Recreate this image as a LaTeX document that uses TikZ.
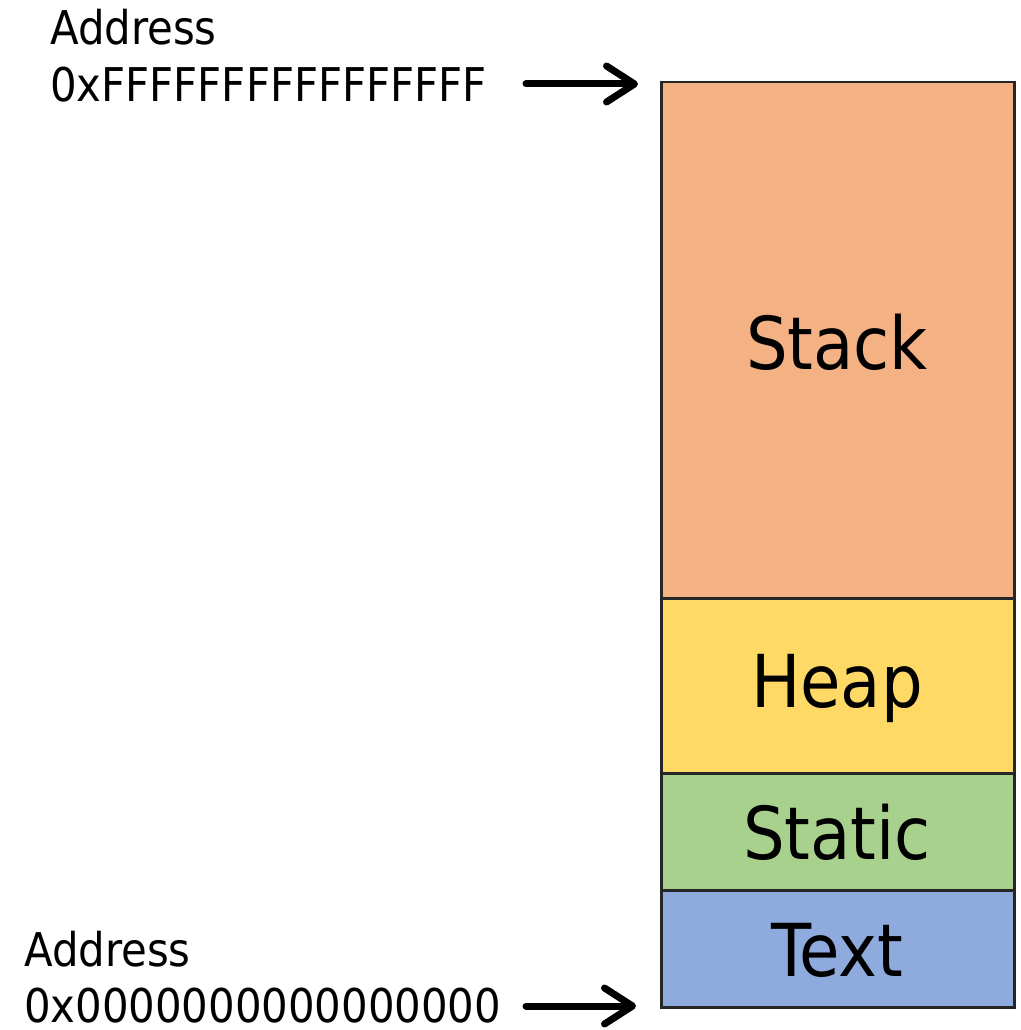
\documentclass[tikz,border=0pt]{standalone}
\usepackage{fontspec}
\setmainfont{DejaVu Sans Condensed}
\usetikzlibrary{arrows.meta}
\definecolor{stackc}{HTML}{F4B183}
\definecolor{heapc}{HTML}{FFD966}
\definecolor{staticc}{HTML}{A9D18E}
\definecolor{textc}{HTML}{8FAADC}
\begin{document}
\begin{tikzpicture}[x=1pt,y=-1pt,
  seg/.style={draw=black!85,line width=2.5pt,anchor=north west,minimum width=353pt,inner sep=0pt,
    font=\fontsize{70}{70}\selectfont},
  addr/.style={anchor=base west,inner sep=0pt,text depth=0pt,font=\fontsize{46.5}{46.5}\selectfont},
  ptr/.style={line width=7pt,line cap=round,-{Straight Barb[length=28pt,width=36pt,round]}}]
\path[use as bounding box] (0,0) rectangle (1020,1030);
\node[seg,fill=stackc,minimum height=516pt] (stack) at (660,81) {};
\node[seg,fill=heapc,minimum height=175pt] (heap) at (660,597) {};
\node[seg,fill=staticc,minimum height=117pt] (static) at (660,772) {};
\node[seg,fill=textc,minimum height=117pt] (text) at (660,889) {};
\node[font=\fontsize{73}{73}\selectfont] (lstack) at (837,342) {Stack};
\node[font=\fontsize{73}{73}\selectfont] (lheap) at (837,688) {Heap};
\node[font=\fontsize{73}{73}\selectfont] (lstatic) at (837,832) {Static};
\node[font=\fontsize{73}{73}\selectfont] (ltext) at (837,950) {Text};
\node[addr] (a1) at (50,45) {Address};
\node[addr] (v1) at (50,102) {0xFFFFFFFFFFFFFFFF};
\node[addr] (a2) at (24,966) {Address};
\node[addr] (v2) at (24,1022) {0x0000000000000000};
\coordinate (s1) at (526,84);
\coordinate (e1) at (638,84);
\coordinate (s2) at (526,1006);
\coordinate (e2) at (636,1006);
\draw[ptr] (s1) -- (e1);
\draw[ptr] (s2) -- (e2);
\end{tikzpicture}
\end{document}
